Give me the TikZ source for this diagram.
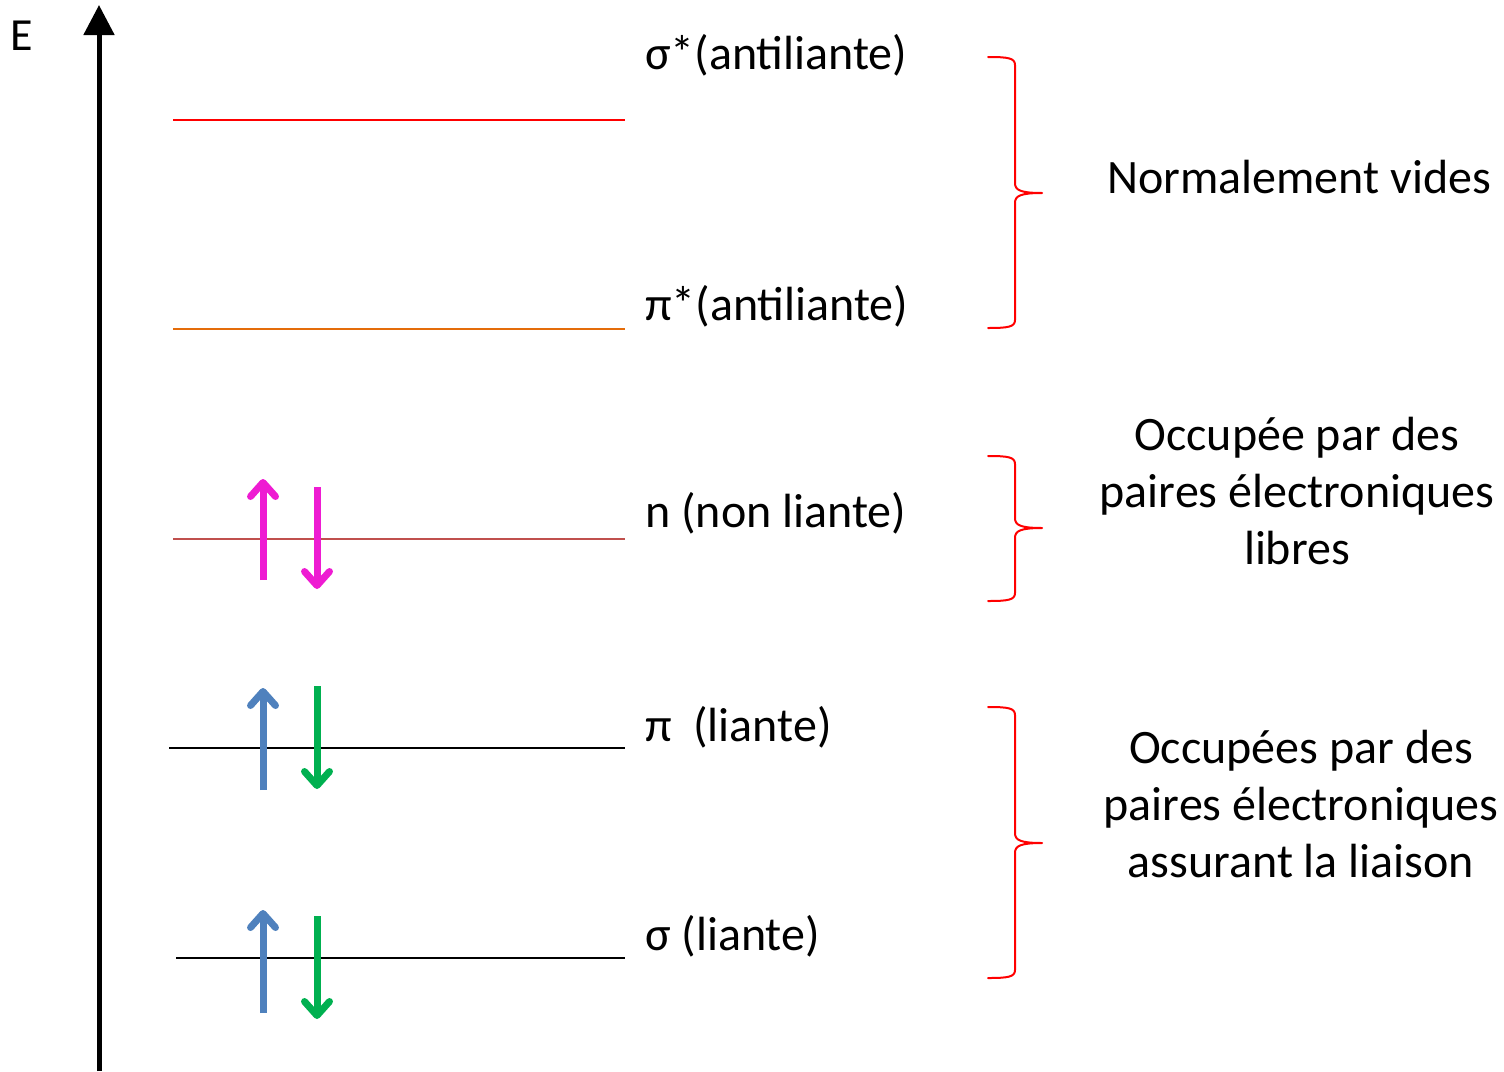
\documentclass[tikz,border=0pt]{standalone}
\usepackage{fontspec}
\setmainfont{Carlito}
\usetikzlibrary{arrows.meta}
\definecolor{mag}{HTML}{EE1BD2}
\definecolor{blu}{HTML}{4F81BD}
\definecolor{grn}{HTML}{00B050}
\definecolor{orng}{HTML}{E46C0A}
\definecolor{nred}{HTML}{C0504D}
\begin{document}
\begin{tikzpicture}[x=1pt,y=-1pt,
  lvl/.style={line width=1.6pt},
  elec/.style={line width=7pt,-{Straight Barb[length=14pt,width=25pt,round]}},
  lab/.style={anchor=west,inner sep=0pt,font=\fontsize{48}{57}\selectfont},
  side/.style={align=center,inner sep=0pt,font=\fontsize{48}{57}\selectfont},
  brace/.style={red,line width=2pt,line cap=round,line join=round}]
\useasboundingbox (0,0) rectangle (1504,1071);
% energy axis
\coordinate (ab) at (99,1071);
\coordinate (at) at (99,5);
\draw[line width=5pt,-{Triangle[length=30pt,width=30pt]}] (ab) -- (at);
\node[inner sep=0pt,font=\fontsize{46}{55}\selectfont] (E) at (22,36) {E};
% levels
\coordinate (s1a) at (173,120); \coordinate (s1b) at (625,120);
\coordinate (p1a) at (173,329); \coordinate (p1b) at (625,329);
\coordinate (na) at (173,539); \coordinate (nb) at (625,539);
\coordinate (pa) at (169,748); \coordinate (pb) at (625,748);
\coordinate (sa) at (176,958); \coordinate (sb) at (625,958);
\draw[lvl,red] (s1a) -- (s1b);
\draw[lvl,orng] (p1a) -- (p1b);
\draw[lvl,nred] (na) -- (nb);
\draw[lvl,black] (pa) -- (pb);
\draw[lvl,black] (sa) -- (sb);
% labels
\node[lab] (Ls1) at (645,55) {σ*(antiliante)};
\node[lab] (Lp1) at (645,306) {π*(antiliante)};
\node[lab] (Ln) at (645,513) {n (non liante)};
\node[lab] (Lp) at (645,727) {π\ \ (liante)};
\node[lab] (Ls) at (645,936) {σ (liante)};
% electrons
\coordinate (n1a) at (263,580); \coordinate (n1b) at (263,479);
\coordinate (n2a) at (317,487); \coordinate (n2b) at (317,589);
\coordinate (p1u) at (263,790); \coordinate (p1t) at (263,688);
\coordinate (p2u) at (317,686); \coordinate (p2t) at (317,789);
\coordinate (s1u) at (263,1013); \coordinate (s1t) at (263,910);
\coordinate (s2u) at (317,916); \coordinate (s2t) at (317,1019);
\draw[elec,mag] (n1a) -- (n1b);
\draw[elec,mag] (n2a) -- (n2b);
\draw[elec,blu] (p1u) -- (p1t);
\draw[elec,grn] (p2u) -- (p2t);
\draw[elec,blu] (s1u) -- (s1t);
\draw[elec,grn] (s2u) -- (s2t);
% braces
\draw[brace] (988,57) .. controls (1008,57) and (1015,58) .. (1015,65) -- (1015,183)
  .. controls (1015,190) and (1020,193) .. (1042,193)
  .. controls (1020,193) and (1015,196) .. (1015,203) -- (1015,320)
  .. controls (1015,327) and (1008,328) .. (988,328);
\draw[brace] (988,456) .. controls (1008,456) and (1015,457) .. (1015,464) -- (1015,518)
  .. controls (1015,525) and (1020,528) .. (1042,528)
  .. controls (1020,528) and (1015,531) .. (1015,538) -- (1015,593)
  .. controls (1015,600) and (1008,601) .. (988,601);
\draw[brace] (988,707) .. controls (1008,707) and (1015,708) .. (1015,715) -- (1015,833)
  .. controls (1015,840) and (1020,843) .. (1042,843)
  .. controls (1020,843) and (1015,846) .. (1015,853) -- (1015,970)
  .. controls (1015,977) and (1008,978) .. (988,978);
% side texts
\node[side] (T1) at (1299,177) {Normalement vides};
\node[side] (T2) at (1297,491) {Occupée par des\\paires électroniques\\libres};
\node[side] (T3) at (1301,804) {Occupées par des\\paires électroniques\\assurant la liaison};
\end{tikzpicture}
\end{document}
